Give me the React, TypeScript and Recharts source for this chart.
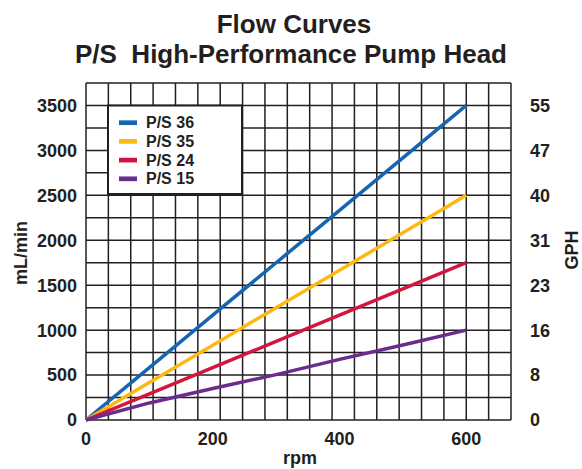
import { LineChart, Line, XAxis, YAxis, CartesianGrid } from 'recharts';

// rpm sample points and flow (mL/min) per pump head
const rpm = [0, 100, 200, 300, 400, 500, 600];
const ps36 = [0, 583, 1167, 1750, 2333, 2917, 3500];
const ps35 = [0, 417, 833, 1250, 1667, 2083, 2500];
const ps24 = [0, 292, 583, 875, 1167, 1458, 1750];
const ps15 = [0, 190, 350, 505, 675, 835, 1000];

const xTicks = [0, 200, 400, 600];
const mlTicks = [0, 500, 1000, 1500, 2000, 2500, 3000, 3500];
const gphLabels = ['0', '8', '16', '23', '31', '40', '47', '55'];

const series = [
    { key: 'ps36', name: 'P/S 36', values: ps36, color: '#1565b2' },
    { key: 'ps35', name: 'P/S 35', values: ps35, color: '#fdb913' },
    { key: 'ps24', name: 'P/S 24', values: ps24, color: '#d3163d' },
    { key: 'ps15', name: 'P/S 15', values: ps15, color: '#6a2c8e' },
];

const data = rpm.map((r, i) => {
    const row: Record<string, number> = { rpm: r };
    series.forEach(s => { row[s.key] = s.values[i]; });
    return row;
});

// plot box in pixels
const W = 582;
const H = 469;
const LEFT = 86;
const RIGHT_W = 71;
const TOP = 83;
const X_AXIS_H = 49;
const plotW = W - LEFT - RIGHT_W;
const plotH = H - TOP - X_AXIS_H;
const X_MAX = (600 * 19) / 17; // grid has 19 columns, 600 rpm sits on the 17th line
const Y_MAX = 3750;

const vGrid = Array.from({ length: 20 }, (_, i) => LEFT + (plotW * i) / 19);
const hGrid = Array.from({ length: 16 }, (_, i) => TOP + (plotH * i) / 15);

const INK = '#231f20';
const FONT = '"Liberation Sans", Arial, Helvetica, sans-serif';
const tickStyle = { fontSize: 18, fontWeight: 'bold', fill: INK, fontFamily: FONT } as any;

export default function App() {
    return (
        <div style={{ position: 'relative', width: W, height: H, background: '#fff', fontFamily: FONT }}>
            <style>{`body{margin:0}`}</style>
            <LineChart width={W} height={H} data={data} margin={{ top: TOP, right: 0, bottom: 0, left: 0 }}>
                <CartesianGrid verticalPoints={vGrid} horizontalPoints={hGrid} stroke={INK} strokeWidth={1.5} />
                <XAxis
                    dataKey="rpm"
                    type="number"
                    domain={[0, X_MAX]}
                    ticks={xTicks}
                    height={X_AXIS_H}
                    axisLine={false}
                    tickLine={false}
                    tickSize={0}
                    tickMargin={12}
                    tick={tickStyle}
                    interval={0}
                />
                <YAxis
                    yAxisId="left"
                    type="number"
                    domain={[0, Y_MAX]}
                    ticks={mlTicks}
                    width={LEFT}
                    axisLine={false}
                    tickLine={false}
                    tickSize={0}
                    tickMargin={9}
                    tick={tickStyle}
                    interval={0}
                />
                <YAxis
                    yAxisId="right"
                    orientation="right"
                    type="number"
                    domain={[0, Y_MAX]}
                    ticks={mlTicks}
                    includeHidden
                    tickFormatter={(v: number) => gphLabels[mlTicks.indexOf(v)] ?? ''}
                    width={RIGHT_W}
                    axisLine={false}
                    tickLine={false}
                    tickSize={0}
                    tickMargin={19}
                    tick={tickStyle}
                    interval={0}
                />
                {series.map(s => (
                    <Line
                        key={s.key}
                        yAxisId="left"
                        type="linear"
                        dataKey={s.key}
                        stroke={s.color}
                        strokeWidth={3.5}
                        dot={false}
                        activeDot={false}
                        isAnimationActive={false}
                    />
                ))}
                {/* GPH axis is the same scale in other units; a hidden series anchors it */}
                <Line yAxisId="right" dataKey="ps36" hide dot={false} legendType="none" isAnimationActive={false} />
            </LineChart>

            <svg width={W} height={H} style={{ position: 'absolute', left: 0, top: 0, pointerEvents: 'none' }}>
                <g fontFamily={FONT} fontWeight="bold" fill={INK}>
                    <text x={294} y={33} fontSize={26} textAnchor="middle">Flow Curves</text>
                    <text x={291} y={63} fontSize={26} textAnchor="middle" style={{ whiteSpace: 'pre' }}>P/S  High-Performance Pump Head</text>
                    <text x={300} y={464} fontSize={18} textAnchor="middle">rpm</text>
                    <text transform="translate(27,253) rotate(-90)" fontSize={18} textAnchor="middle">mL/min</text>
                    <text transform="translate(578,250) rotate(-90)" fontSize={18} textAnchor="middle">GPH</text>
                </g>
                <rect x={108} y={105.5} width={134} height={88.5} fill="#fff" stroke={INK} strokeWidth={2} />
                {series.map((s, i) => (
                    <g key={s.key}>
                        <line x1={119} x2={137} y1={122.7 + i * 18.7} y2={122.7 + i * 18.7} stroke={s.color} strokeWidth={4.7} />
                        <text x={146} y={128.3 + i * 18.7} fontSize={16} fontWeight="bold" fontFamily={FONT} fill={INK}>{s.name}</text>
                    </g>
                ))}
            </svg>
        </div>
    );
}
